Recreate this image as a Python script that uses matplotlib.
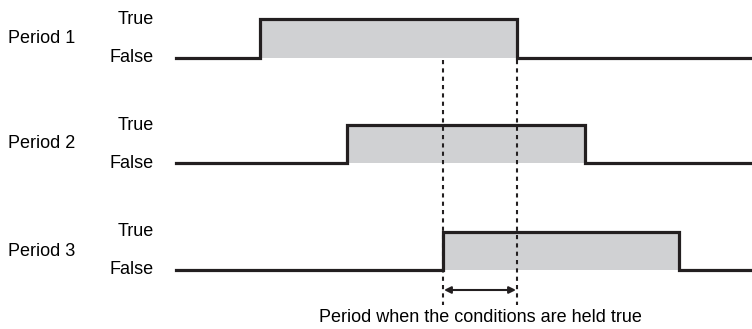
import matplotlib.pyplot as plt

plt.rcParams['font.family'] = ['Liberation Sans', 'DejaVu Sans']

# timing data (horizontal units ~ pixels of the original drawing)
periods = ["Period 1", "Period 2", "Period 3"]
rise = [260, 347, 443]
fall = [517, 585, 679]
t_start = 176
t_end = 752
true_level = [19, 125, 232]
false_level = [58, 163, 270]

fig = plt.figure(figsize=(7.52, 3.29), dpi=100)
ax = fig.add_axes([0, 0, 1, 1])
ax.set_xlim(0, 752)
ax.set_ylim(329, 0)
ax.axis('off')

fill_col = '#d0d1d3'
fs = 13
for i in range(3):
    hi = true_level[i]
    lo = false_level[i]
    ax.fill_between([rise[i], fall[i]], hi, lo, color=fill_col, lw=0, zorder=1)
    xs = [t_start, rise[i], rise[i], fall[i], fall[i], t_end]
    ys = [lo, lo, hi, hi, lo, lo]
    ax.plot(xs, ys, color='#231f20', lw=2.3, solid_joinstyle='miter', zorder=3)
    ax.text(8, (hi + lo) / 2, periods[i], fontsize=fs, ha='left', va='center')
    ax.text(154, hi, "True", fontsize=fs, ha='right', va='center')
    ax.text(154, lo, "False", fontsize=fs, ha='right', va='center')

# window where all conditions are true
win_start = max(rise)
win_end = min(fall)
for x in [win_start, win_end]:
    ax.plot([x, x], [60, 305], color='#231f20', lw=1.5, ls=(0, (2.0, 2.0)), zorder=2)

ax.annotate('', xy=(win_start + 1, 290), xytext=(win_end - 1, 290),
            arrowprops=dict(arrowstyle='<|-|>', color='#231f20', lw=1.5,
                            mutation_scale=10, shrinkA=0, shrinkB=0))
ax.text((win_start + win_end) / 2, 318, "Period when the conditions are held true",
        fontsize=fs, ha='center', va='center')

fig.savefig('out.png', dpi=100)
